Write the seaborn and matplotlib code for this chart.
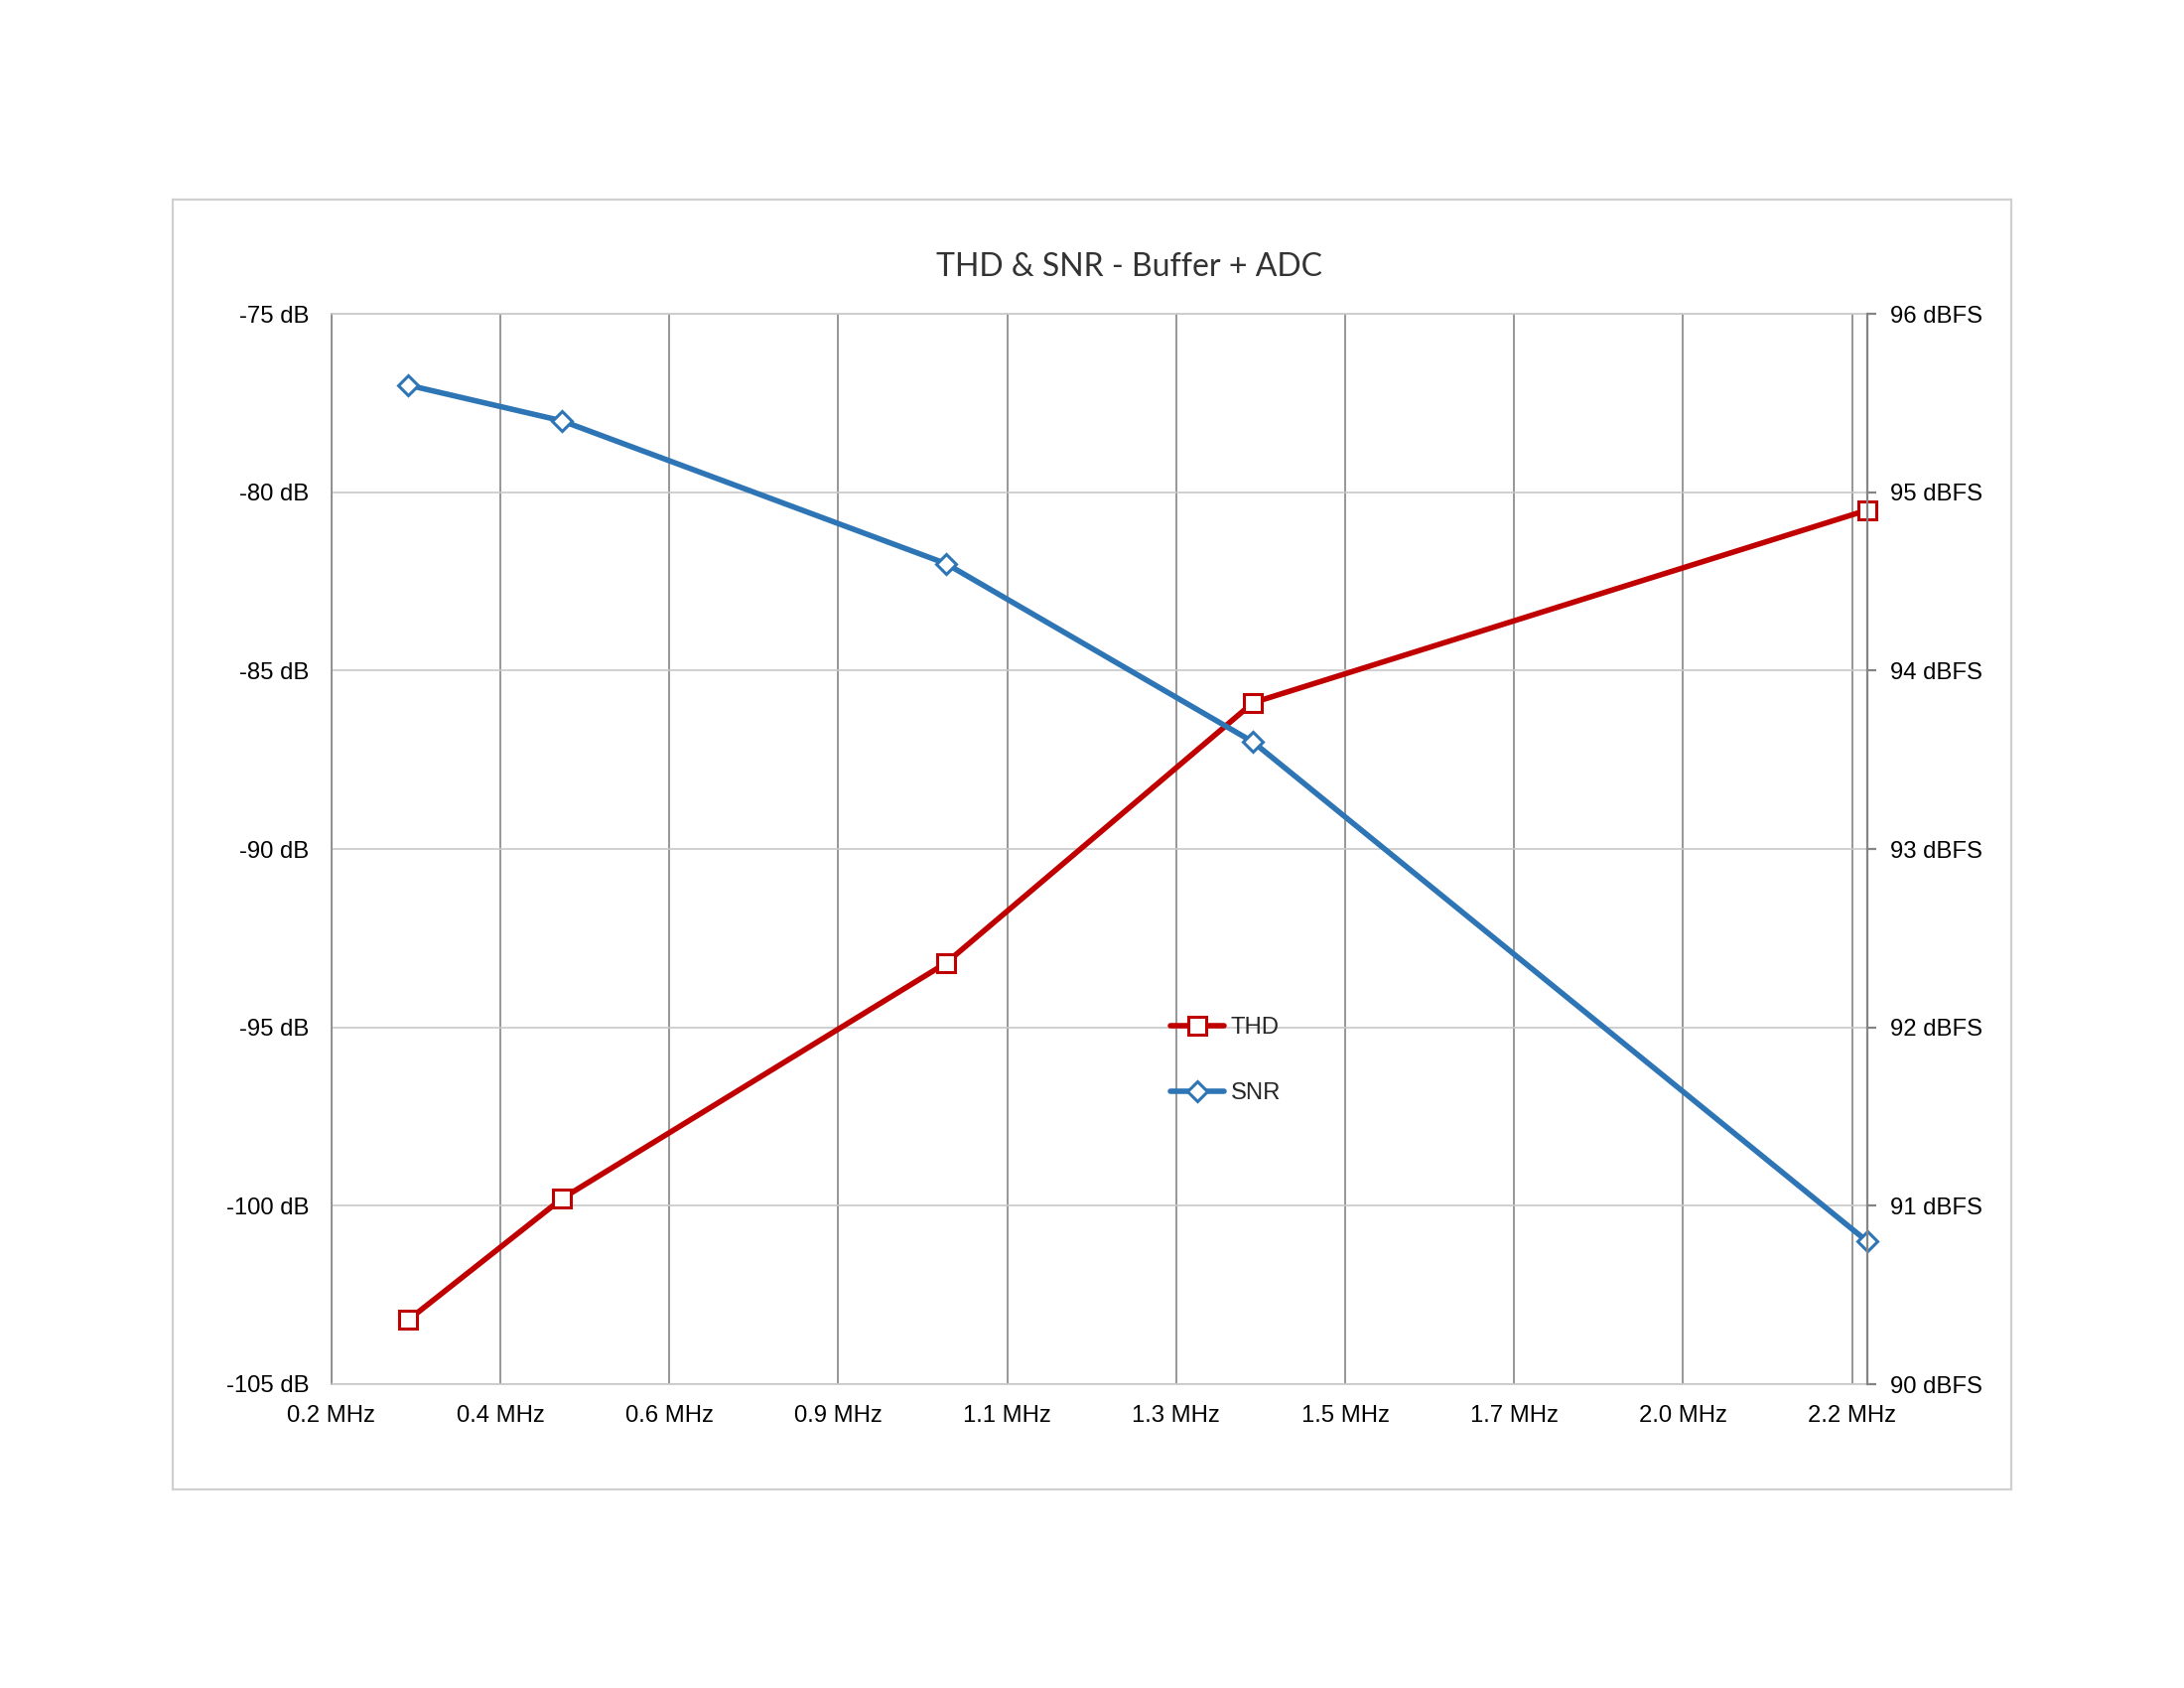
import matplotlib
matplotlib.use("Agg")
import matplotlib.pyplot as plt
import seaborn as sns
from matplotlib.patches import Rectangle

# data
freq_mhz = [0.3, 0.5, 1.0, 1.4, 2.2]
thd_db = [-103.2, -99.8, -93.2, -85.9, -80.5]
snr_dbfs = [95.6, 95.4, 94.6, 93.6, 90.8]

x_ticks = [0.2, 0.42, 0.64, 0.86, 1.08, 1.30, 1.52, 1.74, 1.96, 2.18]
x_labels = ["0.2 MHz", "0.4 MHz", "0.6 MHz", "0.9 MHz", "1.1 MHz",
            "1.3 MHz", "1.5 MHz", "1.7 MHz", "2.0 MHz", "2.2 MHz"]
left_ticks = [-105, -100, -95, -90, -85, -80, -75]
right_ticks = [90, 91, 92, 93, 94, 95, 96]

sns.set_style("white")
tick_font = ["Liberation Sans Narrow", "Liberation Sans", "DejaVu Sans"]
plt.rcParams["font.family"] = tick_font

red = "#C00000"
blue = "#2E75B6"
vgrid = "#858585"
hgrid = "#c8c8c8"
fs = 8.6

fig = plt.figure(figsize=(11, 8.5), dpi=200)
ax = fig.add_axes([0.1518, 0.18, 0.855 - 0.1518, 0.8141 - 0.18])
ax2 = ax.twinx()

sns.lineplot(x=freq_mhz, y=thd_db, ax=ax, color=red, linewidth=2.0,
             marker="s", markersize=6.2, markeredgecolor=red,
             markeredgewidth=1.1, label="THD", legend=False)
sns.lineplot(x=freq_mhz, y=snr_dbfs, ax=ax2, color=blue, linewidth=2.0,
             marker="D", markersize=5.3, markeredgecolor=blue,
             markeredgewidth=1.1, label="SNR", legend=False)
for ln in ax.lines + ax2.lines:
    ln.set_markerfacecolor("white")
    ln.set_clip_on(False)

ax.set_xlim(0.2, 2.2)
ax.set_ylim(-105, -75)
ax2.set_ylim(90, 96)

ax.set_xticks(x_ticks)
ax.set_xticklabels(x_labels, fontsize=fs)
ax.set_yticks(left_ticks)
ax.set_yticklabels([f"{v} dB" for v in left_ticks], fontsize=fs)
ax2.set_yticks(right_ticks)
ax2.set_yticklabels([f"{v} dBFS" for v in right_ticks], fontsize=fs)

ax.grid(axis="x", color=vgrid, linewidth=0.6)
ax.grid(axis="y", color=hgrid, linewidth=0.6)
ax.set_axisbelow(True)

ax.tick_params(axis="x", length=0, pad=7.5, colors="black")
ax.tick_params(axis="y", length=0, pad=8, colors="black")
ax2.tick_params(axis="y", length=3.2, width=0.8, color=vgrid, pad=5,
                labelcolor="black")

for side in ["top", "bottom"]:
    ax.spines[side].set_color(hgrid)
    ax.spines[side].set_linewidth(0.6)
ax.spines["left"].set_color(vgrid)
ax.spines["left"].set_linewidth(0.6)
ax.spines["right"].set_visible(False)
for side in ["top", "bottom", "left"]:
    ax2.spines[side].set_visible(False)
ax2.spines["right"].set_color(vgrid)
ax2.spines["right"].set_linewidth(0.8)
ax2.grid(False)

handles = ax.lines[:1] + ax2.lines[:1]
ax2.legend(handles, ["THD", "SNR"], loc="upper left",
           bbox_to_anchor=(0.5305, 0.4045), bbox_transform=fig.transFigure,
           frameon=False, handlelength=2.25, labelspacing=1.85,
           handletextpad=0.3, borderpad=0, fontsize=fs)

fig.text(0.517, 0.842, "THD & SNR - Buffer + ADC", ha="center", va="center",
         fontsize=11.5, color="#333333", family=["Lato", "DejaVu Sans"])

fig.patches.append(Rectangle((0.079, 0.1176), 0.842, 0.7642,
                             transform=fig.transFigure, fill=False,
                             edgecolor="#d0d0d0", linewidth=0.8))

fig.savefig("out.png", dpi=200, facecolor="white")
